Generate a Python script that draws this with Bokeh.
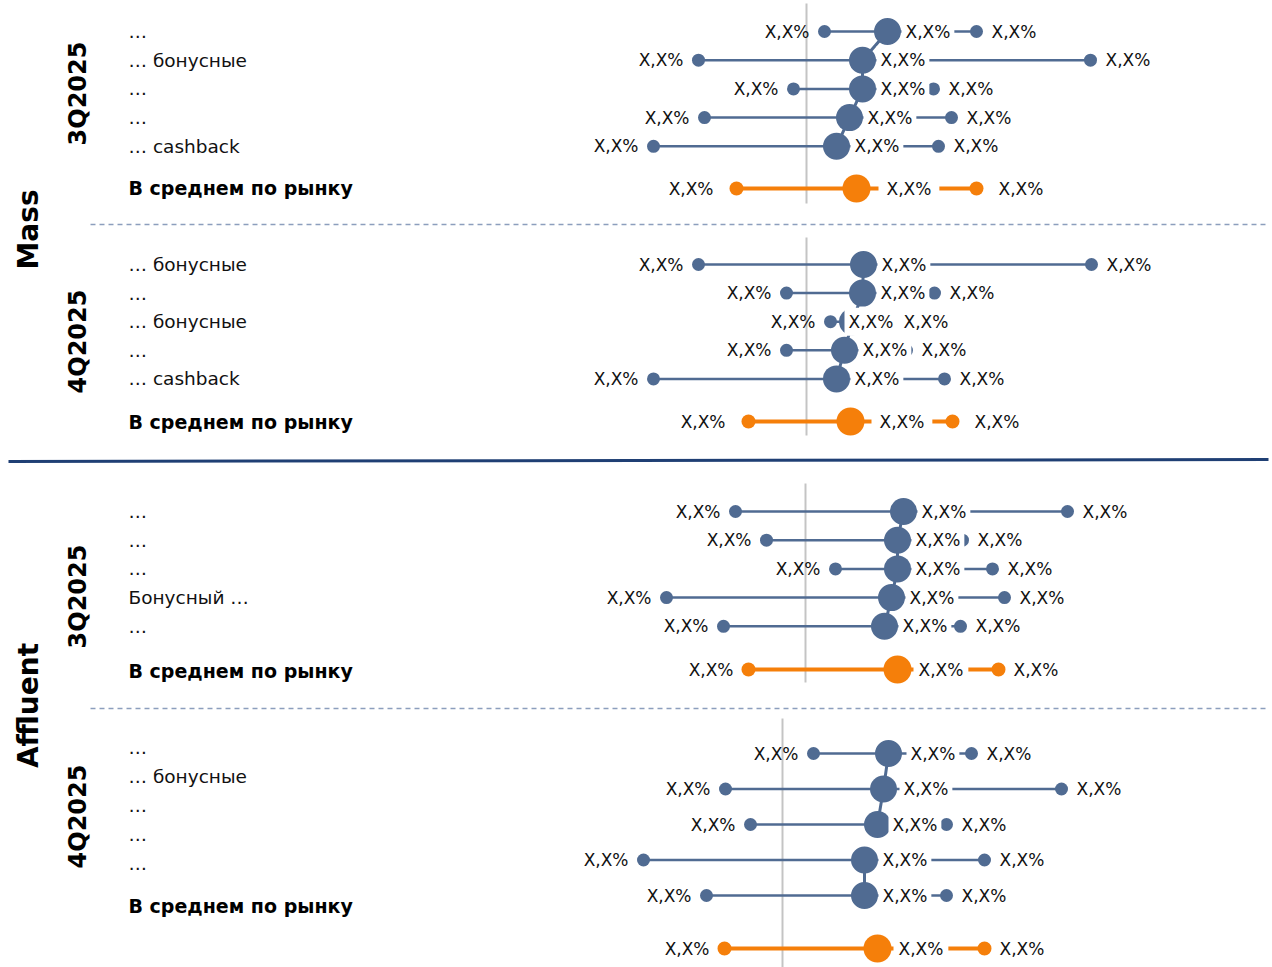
import math

from bokeh.core.properties import value
from bokeh.embed import file_html
from bokeh.models import ColumnDataSource, Range1d
from bokeh.plotting import figure
from bokeh.resources import INLINE

# ---------------------------------------------------------------------------
# Data: range (min / median / max) of rates by offer, %, per segment & quarter
# ---------------------------------------------------------------------------
VALUE_LABEL = "X,X%"
AVG_NAME = "В среднем по рынку"

segments = ["Mass", "Affluent"]
quarters = ["3Q2025", "4Q2025"]

mass_3q_names = ["…", "… бонусные", "…", "…", "… cashback"]
mass_3q_min = [6.48, 3.96, 5.86, 4.08, 3.06]
mass_3q_mid = [7.74, 7.24, 7.24, 6.98, 6.72]
mass_3q_max = [9.52, 11.80, 8.66, 9.02, 8.76]
mass_3q_avg = [4.72, 7.12, 9.52]          # min, median, max
mass_3q_ref = 6.12

mass_4q_names = ["… бонусные", "…", "… бонусные", "…", "… cashback"]
mass_4q_min = [3.96, 5.72, 6.60, 5.72, 3.06]
mass_4q_mid = [7.26, 7.24, 7.04, 6.88, 6.72]
mass_4q_max = [11.82, 8.68, 7.76, 8.12, 8.88]
mass_4q_avg = [4.96, 7.00, 9.04]
mass_4q_ref = 6.12

aff_3q_names = ["…", "…", "…", "Бонусный …", "…"]
aff_3q_min = [4.70, 5.32, 6.70, 3.32, 4.46]
aff_3q_mid = [8.06, 7.94, 7.94, 7.82, 7.68]
aff_3q_max = [11.34, 9.24, 9.84, 10.08, 9.20]
aff_3q_avg = [4.96, 7.94, 9.96]
aff_3q_ref = 6.10

aff_4q_names = ["…", "… бонусные", "…", "…", "…"]
aff_4q_min = [6.26, 4.50, 5.00, 2.86, 4.12]
aff_4q_mid = [7.76, 7.66, 7.54, 7.28, 7.28]
aff_4q_max = [9.42, 11.22, 8.92, 9.68, 8.92]
aff_4q_avg = [4.48, 7.54, 9.68]
aff_4q_ref = 5.64

# ---------------------------------------------------------------------------
# Styling
# ---------------------------------------------------------------------------
W, H = 1272, 967
BLUE = "#506B92"
ORANGE = "#F57F0A"
REF_GREY = "#C4C4C4"
DASH_COL = "#8C9EBD"
NAVY = "#1F3F74"
FONT = value("DejaVu Sans")

p = figure(width=W, height=H, output_backend="svg", toolbar_location=None,
           x_range=Range1d(0, W), y_range=Range1d(H, 0),
           min_border=0, outline_line_color=None)
p.axis.visible = False
p.grid.visible = False
p.background_fill_color = "white"
p.border_fill_color = "white"
# value scale used by all the dumbbells
p.extra_x_ranges = {"val": Range1d(-10.0, 15.44)}

# panel layout: first row, row step, average row, label rows, reference line span,
# label offsets (px) for the market-average row, nudges of median labels and
# rows after which the median connector is interrupted
panels = [
    dict(names=mass_3q_names, lo=mass_3q_min, mid=mass_3q_mid, hi=mass_3q_max,
         avg=mass_3q_avg, ref=mass_3q_ref, row0=31, step=28.7, avg_y=188,
         lab0=31, lab_step=28.7, lab_avg=187, ref_span=(3, 203),
         q=quarters[0], q_y=93, avg_off=(-23, 22, 22), avg_pad=8,
         nudge=[0, 0, 0, 0, 0], breaks=[]),
    dict(names=mass_4q_names, lo=mass_4q_min, mid=mass_4q_mid, hi=mass_4q_max,
         avg=mass_4q_avg, ref=mass_4q_ref, row0=264, step=28.6, avg_y=421,
         lab0=264, lab_step=28.6, lab_avg=421, ref_span=(237, 435),
         q=quarters[1], q_y=341, avg_off=(-23, 21, 22), avg_pad=8,
         nudge=[0, 0, -22, 0, 0], breaks=[]),
    dict(names=aff_3q_names, lo=aff_3q_min, mid=aff_3q_mid, hi=aff_3q_max,
         avg=aff_3q_avg, ref=aff_3q_ref, row0=511, step=28.7, avg_y=669,
         lab0=511, lab_step=28.7, lab_avg=670, ref_span=(483, 682),
         q=quarters[0], q_y=596, avg_off=(-15, 16, 15), avg_pad=5,
         nudge=[0, 0, 0, 0, 0], breaks=[]),
    dict(names=aff_4q_names, lo=aff_4q_min, mid=aff_4q_mid, hi=aff_4q_max,
         avg=aff_4q_avg, ref=aff_4q_ref, row0=753, step=35.5, avg_y=948,
         lab0=747, lab_step=29, lab_avg=905, ref_span=(718, 967),
         q=quarters[1], q_y=816, avg_off=(-15, 16, 15), avg_pad=5,
         nudge=[4, 2, -3, 0, 0], breaks=[2]),
]

MID_OFFSET = 14
MID_PAD = 4

label_kw = dict(text_font=FONT, text_font_size="17px", text_color="#111111",
                text_baseline="middle")

# separators between quarters and segments
p.segment(x0=[90, 90], y0=[224, 708], x1=[1268, 1268], y1=[224, 708],
          line_color=DASH_COL, line_width=1.5, line_dash="5 4")
p.segment(x0=[8], y0=[461], x1=[1268], y1=[459], line_color=NAVY, line_width=3)

# segment titles
p.text(x=[28, 28], y=[229, 705], text=segments, angle=math.pi / 2,
       text_align="center", text_baseline="middle", text_font=FONT,
       text_font_size="28px", text_font_style="bold", text_color="black")

for pn in panels:
    n = len(pn["names"])
    ys = [pn["row0"] + i * pn["step"] for i in range(n)]
    lab_ys = [pn["lab0"] + i * pn["lab_step"] for i in range(n)]

    # quarter title
    p.text(x=[77], y=[pn["q_y"]], text=[pn["q"]], angle=math.pi / 2,
           text_align="center", text_baseline="middle", text_font=FONT,
           text_font_size="24px", text_font_style="bold", text_color="black")

    # row names
    p.text(x=[128] * n, y=lab_ys, text=pn["names"], text_align="left",
           text_baseline="middle", text_font=FONT, text_font_size="18.5px",
           text_color="#111111")
    p.text(x=[128], y=[pn["lab_avg"]], text=[AVG_NAME], text_align="left",
           text_baseline="middle", text_font=FONT, text_font_size="19px",
           text_font_style="bold", text_color="black")

    # reference line
    p.segment(x0=[pn["ref"]], x1=[pn["ref"]], y0=[pn["ref_span"][0]],
              y1=[pn["ref_span"][1]], x_range_name="val",
              line_color=REF_GREY, line_width=2)

    src = ColumnDataSource(dict(y=ys, lo=pn["lo"], mid=pn["mid"], hi=pn["hi"],
                                lbl=[VALUE_LABEL] * n,
                                moff=[MID_OFFSET + d for d in pn["nudge"]]))
    lo_a, mid_a, hi_a = pn["avg"]
    asrc = ColumnDataSource(dict(y=[pn["avg_y"]], lo=[lo_a], mid=[mid_a],
                                 hi=[hi_a], lbl=[VALUE_LABEL]))

    # median connector (NaN splits the path where it is interrupted)
    cx, cy = [], []
    for i in range(n):
        cx.append(pn["mid"][i])
        cy.append(ys[i])
        if i in pn["breaks"]:
            cx.append(float("nan"))
            cy.append(float("nan"))

    # ranges
    p.segment(x0="lo", y0="y", x1="hi", y1="y", source=src, x_range_name="val",
              line_color=BLUE, line_width=2.5)
    p.segment(x0="lo", y0="y", x1="hi", y1="y", source=asrc, x_range_name="val",
              line_color=ORANGE, line_width=4)
    p.line(x=cx, y=cy, x_range_name="val", line_color=BLUE, line_width=3)
    # end points
    for col in ("lo", "hi"):
        p.scatter(x=col, y="y", source=src, x_range_name="val", size=13,
                  fill_color=BLUE, line_color=None)
        p.scatter(x=col, y="y", source=asrc, x_range_name="val", size=14,
                  fill_color=ORANGE, line_color=None)
    p.scatter(x="mid", y="y", source=src, x_range_name="val", size=27,
              fill_color=BLUE, line_color=None)
    p.scatter(x="mid", y="y", source=asrc, x_range_name="val", size=28,
              fill_color=ORANGE, line_color=None)

    # value labels
    p.text(x="lo", y="y", text="lbl", source=src, x_range_name="val",
           x_offset=-15, text_align="right", **label_kw)
    p.text(x="hi", y="y", text="lbl", source=src, x_range_name="val",
           x_offset=15, text_align="left", **label_kw)
    p.text(x="mid", y="y", text="lbl", source=src, x_range_name="val",
           x_offset="moff", text_align="left", background_fill_color="white",
           padding=MID_PAD, **label_kw)

    o_lo, o_mid, o_hi = pn["avg_off"]
    p.text(x="lo", y="y", text="lbl", source=asrc, x_range_name="val",
           x_offset=o_lo, text_align="right", **label_kw)
    p.text(x="hi", y="y", text="lbl", source=asrc, x_range_name="val",
           x_offset=o_hi, text_align="left", **label_kw)
    p.text(x="mid", y="y", text="lbl", source=asrc, x_range_name="val",
           x_offset=o_mid, text_align="left", background_fill_color="white",
           padding=pn["avg_pad"], **label_kw)

with open("out.html", "w") as f:
    f.write(file_html(p, INLINE))
